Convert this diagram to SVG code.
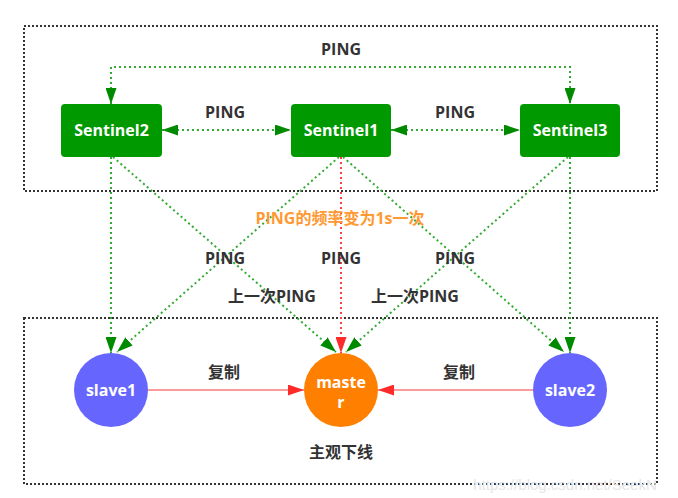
<svg xmlns="http://www.w3.org/2000/svg" width="678" height="498" viewBox="0 0 678 498">
<defs>
<marker id="ag" markerUnits="userSpaceOnUse" markerWidth="16" markerHeight="11" refX="16" refY="5.5" orient="auto-start-reverse"><path d="M0,0 L16,5.5 L0,11 Z" fill="#008a00"/></marker>
<marker id="ar" markerUnits="userSpaceOnUse" markerWidth="16" markerHeight="11" refX="16" refY="5.5" orient="auto-start-reverse"><path d="M0,0 L16,5.5 L0,11 Z" fill="#ff2a2a"/></marker>
</defs>
<style>
.frame{fill:none;stroke:#333;stroke-width:2;stroke-dasharray:2 2}
.g{fill:none;stroke:#33aa33;stroke-width:2;stroke-dasharray:2 3}
.rd{fill:none;stroke:#ff4040;stroke-width:2;stroke-dasharray:2 3}
.rs{fill:none;stroke:#ff9a9a;stroke-width:2}
.sent{fill:#009900}
.t{font-family:"Open Sans","Noto Sans CJK SC",sans-serif;font-weight:bold;font-size:16px;text-anchor:middle}
.lbl{fill:#333}
.w{fill:#fff}
.o{fill:#ff9933}
</style>
<rect width="678" height="498" fill="#fff"/>
<rect class="frame" x="24" y="26" width="633" height="165"/>
<rect class="frame" x="24" y="318" width="633" height="166"/>
<text x="565" y="490" font-family="Liberation Sans, sans-serif" font-size="15" fill="#e6e6e6" text-anchor="middle">https://blog.csdn.net/SeekN</text>
<g id="connectors">
<path class="g" d="M111,104 L111,67 L570,67 L570,104" marker-start="url(#ag)" marker-end="url(#ag)"/>
<path class="g" d="M162,130 L291,130" marker-start="url(#ag)" marker-end="url(#ag)"/>
<path class="g" d="M391,130 L520,130" marker-start="url(#ag)" marker-end="url(#ag)"/>
<path class="g" d="M111,157 L111,353" marker-end="url(#ag)"/>
<path class="g" d="M570,157 L570,353" marker-end="url(#ag)"/>
<path class="g" d="M113,157 L336,352" marker-end="url(#ag)"/>
<path class="g" d="M568,157 L346,352" marker-end="url(#ag)"/>
<path class="g" d="M339,157 L117,352" marker-end="url(#ag)"/>
<path class="g" d="M343,157 L564,352" marker-end="url(#ag)"/>
<path class="rd" d="M341,157 L341,353" marker-end="url(#ar)"/>
<path class="rs" d="M148,390 L304,390" marker-end="url(#ar)"/>
<path class="rs" d="M533,390 L378,390" marker-end="url(#ar)"/>
</g>
<g id="sentinel2"><rect class="sent" x="61" y="104" width="101" height="53" rx="4"/><text class="t w" x="111.5" y="136">Sentinel2</text></g>
<g id="sentinel1"><rect class="sent" x="291" y="104" width="100" height="53" rx="4"/><text class="t w" x="341" y="136">Sentinel1</text></g>
<g id="sentinel3"><rect class="sent" x="520" y="104" width="100" height="53" rx="4"/><text class="t w" x="570" y="136">Sentinel3</text></g>
<g id="slave1"><circle cx="111" cy="390" r="37" fill="#6666ff"/><text class="t w" x="111" y="396">slave1</text></g>
<g id="master"><circle cx="341" cy="390" r="37" fill="#ff8000"/><text class="t w" x="341" y="388">maste</text><text class="t w" x="341" y="408">r</text></g>
<g id="slave2"><circle cx="570" cy="390" r="37" fill="#6666ff"/><text class="t w" x="570" y="396">slave2</text></g>
<g id="labels">
<text class="t lbl" x="341" y="55">PING</text>
<text class="t lbl" x="225" y="118">PING</text>
<text class="t lbl" x="455" y="118">PING</text>
<text class="t o" x="340" y="224">PING的频率变为1s一次</text>
<text class="t lbl" x="225" y="264">PING</text>
<text class="t lbl" x="341" y="264">PING</text>
<text class="t lbl" x="455" y="264">PING</text>
<text class="t lbl" x="272" y="302">上一次PING</text>
<text class="t lbl" x="415" y="302">上一次PING</text>
<text class="t lbl" x="224" y="378">复制</text>
<text class="t lbl" x="459" y="378">复制</text>
<text class="t lbl" x="341" y="458">主观下线</text>
</g>
</svg>
